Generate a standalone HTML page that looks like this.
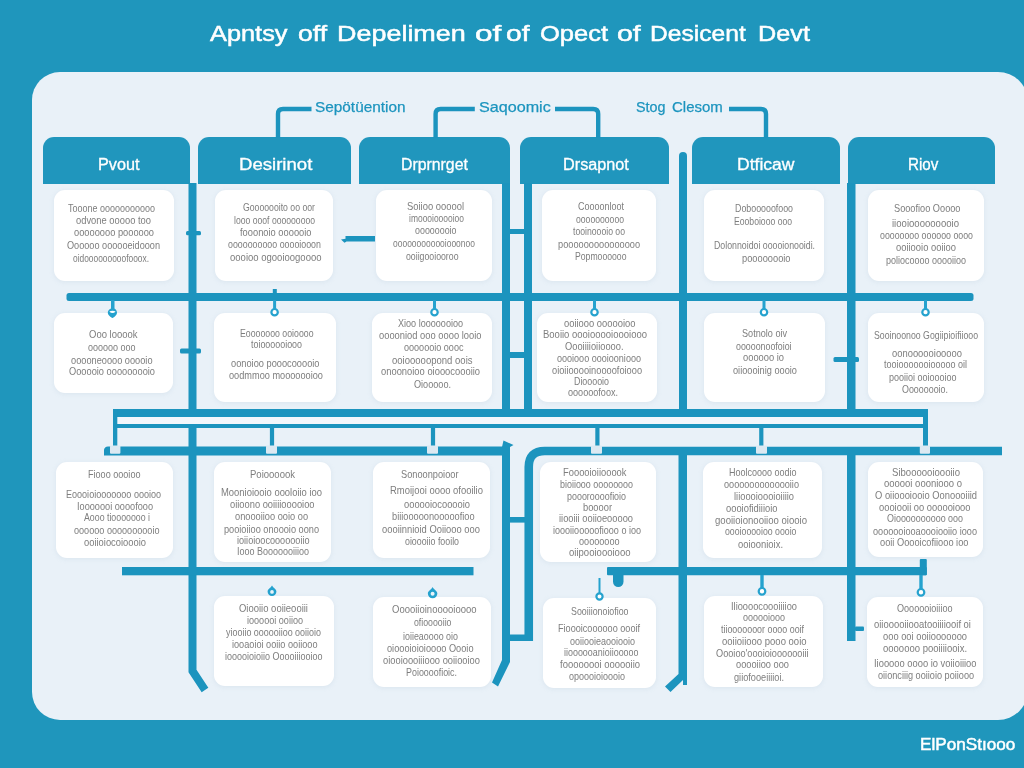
<!DOCTYPE html>
<html><head><meta charset="utf-8"><title>Diagram</title><style>
html,body{margin:0;padding:0}
body{width:1024px;height:768px;overflow:hidden;background:#1f96bc;position:relative;font-family:"Liberation Sans",sans-serif}
.panel{position:absolute;left:32px;top:72px;width:996px;height:648px;border-radius:28px 30px 30px 28px;background:#e9f1f8}
.hd{position:absolute;top:137px;height:46.5px;background:#2096bd;border-radius:11px 11px 0 0}
.cd{position:absolute;background:#fff;border-radius:11px;box-shadow:0 1px 5px rgba(150,175,200,.18)}
.tx{position:absolute;left:0;top:0;width:1024px;height:768px;will-change:transform;opacity:.999}
.t{position:absolute;white-space:nowrap;transform-origin:0 50%;line-height:1}
.g{color:#7e7e7e;font-size:10.5px}
.w{color:#fff}
.b{color:#1c94be}
svg{position:absolute;left:0;top:0}
</style></head>
<body>
<div class="panel"></div>
<div class="hd" style="left:43px;width:146.8px"></div>
<div class="hd" style="left:197.5px;width:153.0px"></div>
<div class="hd" style="left:359px;width:151px"></div>
<div class="hd" style="left:520px;width:149px"></div>
<div class="hd" style="left:692px;width:148px"></div>
<div class="hd" style="left:847.5px;width:147.5px"></div>
<div class="cd" style="left:54px;top:190px;width:120px;height:90.5px"></div>
<div class="cd" style="left:214.5px;top:190px;width:118.5px;height:90.5px"></div>
<div class="cd" style="left:376px;top:190px;width:115.5px;height:90.5px"></div>
<div class="cd" style="left:541.5px;top:190px;width:114.5px;height:90.5px"></div>
<div class="cd" style="left:703.5px;top:190px;width:120.5px;height:90.5px"></div>
<div class="cd" style="left:867.5px;top:190px;width:116.5px;height:90.5px"></div>
<div class="cd" style="left:54px;top:313px;width:118.5px;height:80px"></div>
<div class="cd" style="left:214px;top:313px;width:121.5px;height:89px"></div>
<div class="cd" style="left:372px;top:312.5px;width:120px;height:89.5px"></div>
<div class="cd" style="left:537px;top:312.5px;width:119.5px;height:89.5px"></div>
<div class="cd" style="left:703.5px;top:313px;width:121.25px;height:89px"></div>
<div class="cd" style="left:867.5px;top:313px;width:116.5px;height:89px"></div>
<div class="cd" style="left:56px;top:461.5px;width:117px;height:96.0px"></div>
<div class="cd" style="left:214px;top:461.5px;width:117px;height:100.5px"></div>
<div class="cd" style="left:372.5px;top:461.5px;width:117.5px;height:96.5px"></div>
<div class="cd" style="left:540px;top:461.5px;width:115.5px;height:100.5px"></div>
<div class="cd" style="left:703px;top:461.5px;width:118.5px;height:96.25px"></div>
<div class="cd" style="left:868px;top:461.5px;width:115px;height:95.0px"></div>
<div class="cd" style="left:214px;top:596.3px;width:120px;height:89.70000000000005px"></div>
<div class="cd" style="left:372.5px;top:597px;width:118.5px;height:90px"></div>
<div class="cd" style="left:542.75px;top:598px;width:113.25px;height:89.75px"></div>
<div class="cd" style="left:703.5px;top:596px;width:119.5px;height:91px"></div>
<div class="cd" style="left:866.75px;top:597px;width:115.75px;height:89.5px"></div>
<svg width="1024" height="768" viewBox="0 0 1024 768"><path d="M278 138V114Q278 109 283 109H311.5" stroke="#1c94be" stroke-width="4.4" fill="none" stroke-linecap="butt" stroke-linejoin="miter"/><path d="M435.6 138V114Q435.6 109 440.6 109H474.8" stroke="#1c94be" stroke-width="4.4" fill="none" stroke-linecap="butt" stroke-linejoin="miter"/><path d="M555 109H593.2Q598.2 109 598.2 114V138" stroke="#1c94be" stroke-width="4.4" fill="none" stroke-linecap="butt" stroke-linejoin="miter"/><path d="M729 109H761Q766 109 766 114V138" stroke="#1c94be" stroke-width="4.4" fill="none" stroke-linecap="butt" stroke-linejoin="miter"/><rect x="117" y="417" width="806.00" height="7.00" fill="#f3f7fb"/><rect x="66.5" y="293" width="907.00" height="8.00" fill="#1c94be" rx="2.5"/><rect x="188.5" y="183" width="8.00" height="226.00" fill="#1c94be"/><path d="M192.5 428V671L205 690" stroke="#1c94be" stroke-width="8" fill="none" stroke-linecap="butt" stroke-linejoin="miter"/><rect x="502" y="183" width="8.00" height="226.00" fill="#1c94be"/><rect x="524" y="183" width="8.00" height="226.00" fill="#1c94be"/><rect x="510" y="229" width="14.00" height="5.00" fill="#1c94be"/><rect x="510" y="352" width="14.00" height="6.00" fill="#1c94be"/><path d="M679 156a4 4 0 0 1 8 0V409h-8z" fill="#1c94be"/><rect x="847" y="183" width="8.50" height="226.00" fill="#1c94be"/><rect x="186" y="231" width="15.00" height="4.20" fill="#1c94be" rx="1.5"/><rect x="180" y="348.6" width="21.00" height="5.00" fill="#1c94be" rx="1.5"/><rect x="833.5" y="357" width="25.50" height="5.00" fill="#1c94be" rx="1.5"/><path d="M345.5 236H375V241.6H346.5L344.5 242.8L341 239.6L345.5 238.8z" fill="#1c94be"/><rect x="113" y="409" width="815.00" height="8.00" fill="#1c94be"/><rect x="113" y="424" width="810.00" height="4.00" fill="#1c94be"/><rect x="113" y="409" width="4.30" height="39.00" fill="#1c94be"/><rect x="923" y="409" width="5.00" height="39.00" fill="#1c94be"/><rect x="269.9" y="428" width="4.20" height="20.00" fill="#1c94be"/><rect x="430.9" y="428" width="4.20" height="20.00" fill="#1c94be"/><rect x="595.3" y="428" width="4.20" height="20.00" fill="#1c94be"/><rect x="759.1999999999999" y="428" width="4.20" height="20.00" fill="#1c94be"/><path d="M104 455.5V450a4 4 0 0 1 4-3.5H510V455.5z" fill="#1c94be"/><path d="M503.5 440.5L513.5 445L510 447V662L498 686.5L492 682.5L502 660V447z" fill="#1c94be"/><path d="M528.75 641V467Q528.75 451 544.75 451H1002" stroke="#1c94be" stroke-width="8.6" fill="none" stroke-linecap="butt" stroke-linejoin="miter"/><rect x="510" y="517" width="15.00" height="5.60" fill="#1c94be"/><rect x="510" y="634.5" width="15.00" height="6.50" fill="#1c94be"/><path d="M678.5 455V674L665 686.5L670.5 692L683 680V685H687V455z" fill="#1c94be"/><rect x="847" y="455" width="8.50" height="186.00" fill="#1c94be"/><rect x="855" y="626.5" width="9.00" height="4.50" fill="#1c94be" rx="1"/><rect x="122" y="567" width="351.50" height="8.30" fill="#1c94be"/><rect x="607" y="567" width="319.80" height="8.30" fill="#1c94be" rx="1"/><rect x="919.8" y="559" width="7.00" height="16.30" fill="#1c94be" rx="1"/><path d="M613 574V581.5a5.25 5.5 0 0 0 10.5 0V574z" fill="#1c94be"/><rect x="110" y="445.6" width="10.40" height="8.20" fill="#dce9f2" rx="1"/><rect x="266" y="445.6" width="11.00" height="8.20" fill="#dce9f2" rx="1"/><rect x="427" y="445.6" width="11.00" height="8.20" fill="#dce9f2" rx="1"/><rect x="591" y="445.6" width="11.00" height="8.20" fill="#dce9f2" rx="1"/><rect x="756" y="445.6" width="11.00" height="8.20" fill="#dce9f2" rx="1"/><rect x="919.8" y="445.6" width="10.20" height="8.20" fill="#dce9f2" rx="1"/><path d="M274.6 300V308.9" stroke="#25a2ce" stroke-width="3" fill="none"/><circle cx="274.6" cy="312.2" r="3.1999999999999997" fill="#fff" stroke="#25a2ce" stroke-width="2.2"/><path d="M434.5 300V308.9" stroke="#25a2ce" stroke-width="3" fill="none"/><circle cx="434.5" cy="312.2" r="3.1999999999999997" fill="#fff" stroke="#25a2ce" stroke-width="2.2"/><path d="M594.5 300V308.9" stroke="#25a2ce" stroke-width="3" fill="none"/><circle cx="594.5" cy="312.2" r="3.1999999999999997" fill="#fff" stroke="#25a2ce" stroke-width="2.2"/><path d="M764 300V308.9" stroke="#25a2ce" stroke-width="3" fill="none"/><circle cx="764" cy="312.2" r="3.1999999999999997" fill="#fff" stroke="#25a2ce" stroke-width="2.2"/><path d="M925.5 300V308.9" stroke="#25a2ce" stroke-width="3" fill="none"/><circle cx="925.5" cy="312.2" r="3.1999999999999997" fill="#fff" stroke="#25a2ce" stroke-width="2.2"/><path d="M111 300H114.5V308.5C116 309.5 117 311 117 312.5C117 315.5 114 317.3 112.5 318C111 317.3 107.8 315.5 107.8 312.5C107.8 311 109 309.5 111 308.5z" fill="#25a2ce"/><path d="M109.3 311.6Q112.5 310 115.6 311.6Q112.5 314.6 109.3 311.6z" fill="#fff"/><rect x="272.8" y="289" width="4.00" height="5.00" fill="#1c94be"/><path d="M599.5 578V593.3" stroke="#25a2ce" stroke-width="2" fill="none"/><circle cx="599.5" cy="596.5" r="3.1" fill="#fff" stroke="#25a2ce" stroke-width="2.2"/><path d="M762 575V587.9" stroke="#25a2ce" stroke-width="3.4" fill="none"/><circle cx="762" cy="591.3" r="3.3000000000000003" fill="#fff" stroke="#25a2ce" stroke-width="2.2"/><path d="M921 575V588.9" stroke="#25a2ce" stroke-width="3.4" fill="none"/><circle cx="921" cy="592.3" r="3.3000000000000003" fill="#fff" stroke="#25a2ce" stroke-width="2.2"/><path d="M272 585.5C273.2 588.0 276.41 588.9440000000001 276.41 591.59A4.41 4.41 0 0 1 267.59 591.59C267.59 588.9440000000001 270.8 588.0 272 585.5z" fill="#25a2ce"/><circle cx="272" cy="591.89" r="1.85" fill="#e8f4fa"/><path d="M432.6 587C433.8 589.5 437.346 590.7064 437.346 593.554A4.745999999999981 4.745999999999981 0 0 1 427.85400000000004 593.554C427.85400000000004 590.7064 431.40000000000003 589.5 432.6 587z" fill="#25a2ce"/><circle cx="432.6" cy="593.8539999999999" r="1.99" fill="#e8f4fa"/></svg>
<div class="tx">
<span class="t w" style="left:209.5px;top:23.8px;font-size:21.5px;transform:scaleX(1.179);-webkit-text-stroke:.5px #fff;">Apntsy</span>
<span class="t w" style="left:298.0px;top:23.8px;font-size:21.5px;transform:scaleX(1.233);-webkit-text-stroke:.5px #fff;">off</span>
<span class="t w" style="left:337.0px;top:23.8px;font-size:21.5px;transform:scaleX(1.253);-webkit-text-stroke:.5px #fff;">Depelimen</span>
<span class="t w" style="left:474.5px;top:23.8px;font-size:21.5px;transform:scaleX(1.467);-webkit-text-stroke:.5px #fff;">of</span>
<span class="t w" style="left:506.0px;top:23.8px;font-size:21.5px;transform:scaleX(1.311);-webkit-text-stroke:.5px #fff;">of</span>
<span class="t w" style="left:539.5px;top:23.8px;font-size:21.5px;transform:scaleX(1.187);-webkit-text-stroke:.5px #fff;">Opect</span>
<span class="t w" style="left:617.0px;top:23.8px;font-size:21.5px;transform:scaleX(1.327);-webkit-text-stroke:.5px #fff;">of</span>
<span class="t w" style="left:650.0px;top:23.8px;font-size:21.5px;transform:scaleX(1.145);-webkit-text-stroke:.5px #fff;">Desicent</span>
<span class="t w" style="left:757.6px;top:23.8px;font-size:21.5px;transform:scaleX(1.174);-webkit-text-stroke:.5px #fff;">Devt</span>
<span class="t w" style="left:97.5px;top:157.2px;font-size:15.6px;transform:scaleX(1.039);-webkit-text-stroke:.3px #fff;">Pvout</span>
<span class="t w" style="left:239.0px;top:157.2px;font-size:15.6px;transform:scaleX(1.192);-webkit-text-stroke:.3px #fff;">Desirinot</span>
<span class="t w" style="left:401.0px;top:157.2px;font-size:15.6px;transform:scaleX(1.015);-webkit-text-stroke:.3px #fff;">Drprnrget</span>
<span class="t w" style="left:563.0px;top:157.2px;font-size:15.6px;transform:scaleX(1.041);-webkit-text-stroke:.3px #fff;">Drsapnot</span>
<span class="t w" style="left:736.7px;top:157.2px;font-size:15.6px;transform:scaleX(1.125);-webkit-text-stroke:.3px #fff;">Dtficaw</span>
<span class="t w" style="left:907.5px;top:157.2px;font-size:15.6px;transform:scaleX(0.976);-webkit-text-stroke:.3px #fff;">Riov</span>
<span class="t b" style="left:315.0px;top:99.0px;font-size:15px;transform:scaleX(1.024);-webkit-text-stroke:.25px #1c94be;">Sepötüention</span>
<span class="t b" style="left:479.0px;top:99.0px;font-size:15px;transform:scaleX(1.076);-webkit-text-stroke:.25px #1c94be;">Saqoomic</span>
<span class="t b" style="left:636.3px;top:99.0px;font-size:15px;transform:scaleX(0.956);-webkit-text-stroke:.25px #1c94be;">Stog</span>
<span class="t b" style="left:672.0px;top:99.0px;font-size:15px;transform:scaleX(0.999);-webkit-text-stroke:.25px #1c94be;">Clesom</span>
<span class="t w" style="left:919.8px;top:736.2px;font-size:16.5px;transform:scaleX(1.038);-webkit-text-stroke:.5px #fff;">ElPonStıooo</span>
<span class="t g" style="left:67.5px;top:202.6px;font-size:11px;transform:scaleX(0.817);">Tooone ooooooooooo</span>
<span class="t g" style="left:76.0px;top:214.8px;font-size:11px;transform:scaleX(0.852);">odvone ooooo too</span>
<span class="t g" style="left:74.0px;top:227.3px;font-size:11px;transform:scaleX(0.844);">oooooooo poooooo</span>
<span class="t g" style="left:67.0px;top:239.8px;font-size:11px;transform:scaleX(0.831);">Oooooo oooooeidooon</span>
<span class="t g" style="left:73.0px;top:252.8px;font-size:11px;transform:scaleX(0.762);">oidooooooooofooox.</span>
<span class="t g" style="left:243.0px;top:201.8px;font-size:11px;transform:scaleX(0.790);">Gooooooito oo oor</span>
<span class="t g" style="left:234.0px;top:214.8px;font-size:11px;transform:scaleX(0.784);">looo ooof ooooooooo</span>
<span class="t g" style="left:239.5px;top:226.8px;font-size:11px;transform:scaleX(0.847);">fooonoio oooooio</span>
<span class="t g" style="left:228.0px;top:239.3px;font-size:11px;transform:scaleX(0.804);">oooooooooo ooooiooon</span>
<span class="t g" style="left:229.5px;top:251.8px;font-size:11px;transform:scaleX(0.865);">oooioo ogooioogoooo</span>
<span class="t g" style="left:407.0px;top:200.8px;font-size:11px;transform:scaleX(0.855);">Soiioo oooool</span>
<span class="t g" style="left:409.0px;top:212.8px;font-size:11px;transform:scaleX(0.769);">imoooiooooioo</span>
<span class="t g" style="left:415.0px;top:225.3px;font-size:11px;transform:scaleX(0.808);">oooooooio</span>
<span class="t g" style="left:393.0px;top:238.3px;font-size:11px;transform:scaleX(0.770);">oooooooooooiooonoo</span>
<span class="t g" style="left:406.0px;top:250.8px;font-size:11px;transform:scaleX(0.795);">ooiigooiooroo</span>
<span class="t g" style="left:578.0px;top:201.3px;font-size:11px;transform:scaleX(0.818);">Coooonloot</span>
<span class="t g" style="left:576.0px;top:213.8px;font-size:11px;transform:scaleX(0.785);">oooooooooo</span>
<span class="t g" style="left:573.0px;top:226.3px;font-size:11px;transform:scaleX(0.787);">tooinoooio oo</span>
<span class="t g" style="left:558.0px;top:238.8px;font-size:11px;transform:scaleX(0.838);">pooooooooooooooo</span>
<span class="t g" style="left:574.5px;top:250.8px;font-size:11px;transform:scaleX(0.787);">Popmoooooo</span>
<span class="t g" style="left:735.0px;top:202.8px;font-size:11px;transform:scaleX(0.804);">Dobooooofooo</span>
<span class="t g" style="left:734.0px;top:215.8px;font-size:11px;transform:scaleX(0.784);">Eooboiooo ooo</span>
<span class="t g" style="left:714.0px;top:239.8px;font-size:11px;transform:scaleX(0.798);">Dolonnoidoi ooooionooidi.</span>
<span class="t g" style="left:742.0px;top:252.8px;font-size:11px;transform:scaleX(0.844);">poooooooio</span>
<span class="t g" style="left:894.0px;top:202.8px;font-size:11px;transform:scaleX(0.836);">Sooofioo Ooooo</span>
<span class="t g" style="left:892.0px;top:217.8px;font-size:11px;transform:scaleX(0.869);">iiooiooooooooio</span>
<span class="t g" style="left:880.0px;top:230.3px;font-size:11px;transform:scaleX(0.800);">oooooooo oooooo oooo</span>
<span class="t g" style="left:895.5px;top:242.3px;font-size:11px;transform:scaleX(0.853);">ooiiooio ooiioo</span>
<span class="t g" style="left:885.5px;top:254.8px;font-size:11px;transform:scaleX(0.818);">poliocoooo ooooiioo</span>
<span class="t g" style="left:89.0px;top:328.8px;font-size:11px;transform:scaleX(0.862);">Ooo looook</span>
<span class="t g" style="left:87.5px;top:341.8px;font-size:11px;transform:scaleX(0.817);">oooooo ooo</span>
<span class="t g" style="left:71.0px;top:354.8px;font-size:11px;transform:scaleX(0.838);">ooooneoooo ooooio</span>
<span class="t g" style="left:69.0px;top:366.3px;font-size:11px;transform:scaleX(0.842);">Oooooio ooooooooio</span>
<span class="t g" style="left:239.5px;top:327.8px;font-size:11px;transform:scaleX(0.796);">Eooooooo ooioooo</span>
<span class="t g" style="left:251.0px;top:338.8px;font-size:11px;transform:scaleX(0.810);">toioooooiooo</span>
<span class="t g" style="left:231.0px;top:357.8px;font-size:11px;transform:scaleX(0.841);">oonoioo pooocooooio</span>
<span class="t g" style="left:229.0px;top:369.8px;font-size:11px;transform:scaleX(0.835);">oodmmoo mooooooioo</span>
<span class="t g" style="left:398.0px;top:318.3px;font-size:11px;transform:scaleX(0.824);">Xioo looooooioo</span>
<span class="t g" style="left:379.0px;top:329.8px;font-size:11px;transform:scaleX(0.851);">ooooniod ooo oooo looio</span>
<span class="t g" style="left:404.0px;top:341.8px;font-size:11px;transform:scaleX(0.824);">ooooooio oooc</span>
<span class="t g" style="left:391.5px;top:354.8px;font-size:11px;transform:scaleX(0.866);">ooiooooopond oois</span>
<span class="t g" style="left:381.0px;top:366.3px;font-size:11px;transform:scaleX(0.852);">onoonoioo oiooocoooiio</span>
<span class="t g" style="left:414.0px;top:379.3px;font-size:11px;transform:scaleX(0.829);">Oiooooo.</span>
<span class="t g" style="left:563.5px;top:317.8px;font-size:11px;transform:scaleX(0.853);">ooiiooo oooooioo</span>
<span class="t g" style="left:543.0px;top:328.8px;font-size:11px;transform:scaleX(0.863);">Booiio oooiooooioooiooo</span>
<span class="t g" style="left:565.0px;top:340.8px;font-size:11px;transform:scaleX(0.847);">Oooiiiioiioooo.</span>
<span class="t g" style="left:556.5px;top:352.8px;font-size:11px;transform:scaleX(0.822);">oooiooo oooiooniooo</span>
<span class="t g" style="left:552.0px;top:364.8px;font-size:11px;transform:scaleX(0.841);">oioiiooooinoooofoiooo</span>
<span class="t g" style="left:574.0px;top:375.8px;font-size:11px;transform:scaleX(0.806);">Diooooio</span>
<span class="t g" style="left:568.0px;top:386.8px;font-size:11px;transform:scaleX(0.826);">oooooofoox.</span>
<span class="t g" style="left:742.0px;top:327.8px;font-size:11px;transform:scaleX(0.827);">Sotnolo oiv</span>
<span class="t g" style="left:735.5px;top:340.8px;font-size:11px;transform:scaleX(0.803);">ooooonoofoioi</span>
<span class="t g" style="left:743.0px;top:351.8px;font-size:11px;transform:scaleX(0.849);">oooooo io</span>
<span class="t g" style="left:733.0px;top:364.8px;font-size:11px;transform:scaleX(0.837);">oiioooinig oooio</span>
<span class="t g" style="left:874.0px;top:329.8px;font-size:11px;transform:scaleX(0.795);">Sooinoonoo Gogiipioifiiooo</span>
<span class="t g" style="left:892.0px;top:348.3px;font-size:11px;transform:scaleX(0.854);">oonoooooiooooo</span>
<span class="t g" style="left:884.0px;top:359.3px;font-size:11px;transform:scaleX(0.818);">tooiooooooiooooo oil</span>
<span class="t g" style="left:888.5px;top:371.8px;font-size:11px;transform:scaleX(0.818);">pooiioi ooioooioo</span>
<span class="t g" style="left:902.0px;top:384.3px;font-size:11px;transform:scaleX(0.809);">Oooooooio.</span>
<span class="t g" style="left:87.5px;top:469.3px;font-size:11px;transform:scaleX(0.825);">Fiooo oooioo</span>
<span class="t g" style="left:66.0px;top:488.8px;font-size:11px;transform:scaleX(0.822);">Eoooioiooooooo oooioo</span>
<span class="t g" style="left:77.0px;top:500.8px;font-size:11px;transform:scaleX(0.834);">Iooooooi oooofooo</span>
<span class="t g" style="left:84.0px;top:512.3px;font-size:11px;transform:scaleX(0.799);">Aooo tiooooooo i</span>
<span class="t g" style="left:74.0px;top:524.8px;font-size:11px;transform:scaleX(0.827);">oooooo oooooooooio</span>
<span class="t g" style="left:84.0px;top:537.3px;font-size:11px;transform:scaleX(0.852);">ooiioiocoioooio</span>
<span class="t g" style="left:249.5px;top:468.8px;font-size:11px;transform:scaleX(0.866);">Poioooook</span>
<span class="t g" style="left:221.0px;top:486.8px;font-size:11px;transform:scaleX(0.856);">Moonioiooio oooloiio ioo</span>
<span class="t g" style="left:230.0px;top:498.8px;font-size:11px;transform:scaleX(0.848);">oiioono ooiiiiooooioo</span>
<span class="t g" style="left:235.0px;top:511.3px;font-size:11px;transform:scaleX(0.841);">onoooiioo ooio oo</span>
<span class="t g" style="left:224.0px;top:523.8px;font-size:11px;transform:scaleX(0.835);">pooioiioo onoooio oono</span>
<span class="t g" style="left:236.5px;top:534.8px;font-size:11px;transform:scaleX(0.829);">ioiioioocooooooiio</span>
<span class="t g" style="left:237.0px;top:546.3px;font-size:11px;transform:scaleX(0.818);">Iooo Booooooiiioo</span>
<span class="t g" style="left:401.0px;top:468.8px;font-size:11px;transform:scaleX(0.839);">Sonoonpoioor</span>
<span class="t g" style="left:390.0px;top:484.8px;font-size:11px;transform:scaleX(0.859);">Rmoijooi oooo ofooilio</span>
<span class="t g" style="left:403.5px;top:498.8px;font-size:11px;transform:scaleX(0.850);">oooooiocooooio</span>
<span class="t g" style="left:391.5px;top:511.3px;font-size:11px;transform:scaleX(0.838);">biiiooooonooooofioo</span>
<span class="t g" style="left:382.0px;top:523.8px;font-size:11px;transform:scaleX(0.852);">oooiinnioid Ooiiooo ooo</span>
<span class="t g" style="left:405.0px;top:535.8px;font-size:11px;transform:scaleX(0.803);">oioooiio fooilo</span>
<span class="t g" style="left:563.0px;top:466.8px;font-size:11px;transform:scaleX(0.851);">Fooooioiiooook</span>
<span class="t g" style="left:560.0px;top:478.8px;font-size:11px;transform:scaleX(0.812);">bioiiooo oooooooo</span>
<span class="t g" style="left:567.0px;top:490.8px;font-size:11px;transform:scaleX(0.811);">poooroooofioio</span>
<span class="t g" style="left:583.0px;top:502.3px;font-size:11px;transform:scaleX(0.847);">boooor</span>
<span class="t g" style="left:559.0px;top:512.8px;font-size:11px;transform:scaleX(0.846);">iiooiii ooiioeooooo</span>
<span class="t g" style="left:553.0px;top:524.8px;font-size:11px;transform:scaleX(0.822);">ioooiiooooofiooo o ioo</span>
<span class="t g" style="left:578.5px;top:536.3px;font-size:11px;transform:scaleX(0.828);">oooooooo</span>
<span class="t g" style="left:568.5px;top:546.8px;font-size:11px;transform:scaleX(0.867);">oiipooioooiooo</span>
<span class="t g" style="left:728.5px;top:467.3px;font-size:11px;transform:scaleX(0.818);">Hoolcoooo oodio</span>
<span class="t g" style="left:724.0px;top:478.8px;font-size:11px;transform:scaleX(0.828);">oooooooooooooiio</span>
<span class="t g" style="left:734.0px;top:490.8px;font-size:11px;transform:scaleX(0.846);">liioooioooioiiiio</span>
<span class="t g" style="left:725.5px;top:502.8px;font-size:11px;transform:scaleX(0.851);">oooiofidiiioio</span>
<span class="t g" style="left:715.0px;top:514.8px;font-size:11px;transform:scaleX(0.870);">gooiioionooiioo oiooio</span>
<span class="t g" style="left:725.0px;top:526.3px;font-size:11px;transform:scaleX(0.795);">oooiooooioo oooio</span>
<span class="t g" style="left:738.0px;top:539.3px;font-size:11px;transform:scaleX(0.856);">ooioonioix.</span>
<span class="t g" style="left:892.0px;top:466.8px;font-size:11px;transform:scaleX(0.869);">Siboooooioooiio</span>
<span class="t g" style="left:884.0px;top:477.8px;font-size:11px;transform:scaleX(0.862);">oooooi oooniooo o</span>
<span class="t g" style="left:875.0px;top:489.8px;font-size:11px;transform:scaleX(0.851);">O oiioooiooio Oonoooiiid</span>
<span class="t g" style="left:879.0px;top:501.8px;font-size:11px;transform:scaleX(0.850);">oooiooii oo oooooiooo</span>
<span class="t g" style="left:887.0px;top:512.8px;font-size:11px;transform:scaleX(0.812);">Oioooooooooo ooo</span>
<span class="t g" style="left:873.0px;top:525.8px;font-size:11px;transform:scaleX(0.829);">ooooooiooaoooiooiio iooo</span>
<span class="t g" style="left:880.0px;top:537.3px;font-size:11px;transform:scaleX(0.841);">ooii Ooooicofiiooo ioo</span>
<span class="t g" style="left:239.0px;top:602.8px;font-size:11px;transform:scaleX(0.861);">Oiooiio ooiieooiii</span>
<span class="t g" style="left:246.5px;top:614.8px;font-size:11px;transform:scaleX(0.825);">ioooooi ooiioo</span>
<span class="t g" style="left:226.0px;top:627.3px;font-size:11px;transform:scaleX(0.813);">yiooiio oooooiioo ooiioio</span>
<span class="t g" style="left:231.5px;top:638.8px;font-size:11px;transform:scaleX(0.832);">iooaoioi ooiio ooiiooo</span>
<span class="t g" style="left:225.0px;top:651.3px;font-size:11px;transform:scaleX(0.818);">iooooioioiio Ooooiiiooioo</span>
<span class="t g" style="left:392.0px;top:604.3px;font-size:11px;transform:scaleX(0.864);">Ooooiioinooooioooo</span>
<span class="t g" style="left:414.0px;top:616.8px;font-size:11px;transform:scaleX(0.796);">ofiooooiio</span>
<span class="t g" style="left:403.0px;top:630.8px;font-size:11px;transform:scaleX(0.810);">ioiieaoooo oio</span>
<span class="t g" style="left:386.5px;top:642.8px;font-size:11px;transform:scaleX(0.837);">oioooioioioooo Oooio</span>
<span class="t g" style="left:383.0px;top:654.8px;font-size:11px;transform:scaleX(0.848);">oiooioooiiiooo ooiiooioo</span>
<span class="t g" style="left:406.0px;top:666.8px;font-size:11px;transform:scaleX(0.810);">Poioooofioic.</span>
<span class="t g" style="left:571.0px;top:606.3px;font-size:11px;transform:scaleX(0.804);">Sooiiionoiofioo</span>
<span class="t g" style="left:558.0px;top:622.8px;font-size:11px;transform:scaleX(0.828);">Fioooicoooooo oooif</span>
<span class="t g" style="left:570.0px;top:635.8px;font-size:11px;transform:scaleX(0.818);">ooiiooieaooiooio</span>
<span class="t g" style="left:564.0px;top:646.8px;font-size:11px;transform:scaleX(0.812);">iioooooanioiiooooo</span>
<span class="t g" style="left:560.0px;top:658.8px;font-size:11px;transform:scaleX(0.861);">foooooooi oooooiio</span>
<span class="t g" style="left:569.0px;top:671.3px;font-size:11px;transform:scaleX(0.817);">opoooioioooio</span>
<span class="t g" style="left:731.0px;top:600.8px;font-size:11px;transform:scaleX(0.843);">Ilioooocoooiiiioo</span>
<span class="t g" style="left:743.0px;top:612.3px;font-size:11px;transform:scaleX(0.817);">oooooiooo</span>
<span class="t g" style="left:721.0px;top:623.8px;font-size:11px;transform:scaleX(0.808);">tiiooooooor oooo ooif</span>
<span class="t g" style="left:722.0px;top:636.3px;font-size:11px;transform:scaleX(0.864);">ooiioiiooo pooo ooio</span>
<span class="t g" style="left:716.0px;top:647.8px;font-size:11px;transform:scaleX(0.834);">Oooioo'oooioiooooooiii</span>
<span class="t g" style="left:735.5px;top:659.3px;font-size:11px;transform:scaleX(0.841);">ooooiioo ooo</span>
<span class="t g" style="left:733.5px;top:671.8px;font-size:11px;transform:scaleX(0.834);">giiofooeiiiioi.</span>
<span class="t g" style="left:897.0px;top:602.8px;font-size:11px;transform:scaleX(0.825);">Ooooooioiiioo</span>
<span class="t g" style="left:874.0px;top:619.3px;font-size:11px;transform:scaleX(0.857);">oiiooooiiooatooiiiiooif oi</span>
<span class="t g" style="left:883.0px;top:630.8px;font-size:11px;transform:scaleX(0.848);">ooo ooi ooiiooooooo</span>
<span class="t g" style="left:883.0px;top:642.8px;font-size:11px;transform:scaleX(0.864);">ooooooo pooiiiiooix.</span>
<span class="t g" style="left:873.5px;top:657.8px;font-size:11px;transform:scaleX(0.851);">Iiooooo oooo io voiioiiioo</span>
<span class="t g" style="left:878.0px;top:669.8px;font-size:11px;transform:scaleX(0.831);">oiionciiig ooiioio poiiooo</span>
</div>
</body></html>
